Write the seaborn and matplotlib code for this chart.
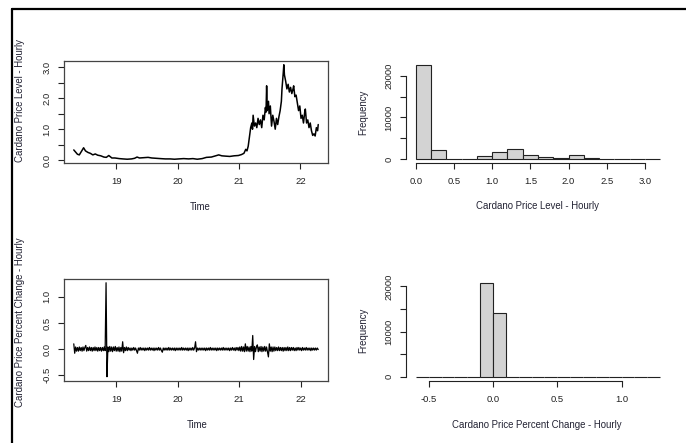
import numpy as np
import matplotlib
matplotlib.use("Agg")
import matplotlib.pyplot as plt
from matplotlib.lines import Line2D
import seaborn as sns

# Hourly Cardano price level (years as 18..22)
price_time = [18.31, 18.34, 18.37, 18.40, 18.44, 18.47, 18.50, 18.54, 18.58, 18.62,
              18.66, 18.70, 18.75, 18.80, 18.84, 18.88, 18.93, 18.98, 19.05, 19.11,
              19.18, 19.25, 19.30, 19.34, 19.38, 19.45, 19.52, 19.58, 19.65, 19.72,
              19.80, 19.88, 19.95, 20.02, 20.10, 20.18, 20.25, 20.32, 20.40, 20.47,
              20.55, 20.62, 20.67, 20.72, 20.78, 20.85, 20.92, 20.99, 21.04, 21.08,
              21.11, 21.13, 21.15, 21.17, 21.19, 21.21, 21.22, 21.23, 21.25, 21.27,
              21.29, 21.31, 21.33, 21.35, 21.37, 21.39, 21.41, 21.43, 21.44, 21.45,
              21.46, 21.48, 21.49, 21.51, 21.53, 21.55, 21.57, 21.59, 21.61, 21.63,
              21.65, 21.67, 21.69, 21.70, 21.72, 21.73, 21.74, 21.76, 21.78, 21.80,
              21.82, 21.84, 21.86, 21.88, 21.89, 21.91, 21.93, 21.95, 21.97, 21.99,
              22.01, 22.03, 22.05, 22.07, 22.08, 22.10, 22.12, 22.14, 22.16, 22.18,
              22.20, 22.22, 22.24, 22.26, 22.28, 22.29]
price_level = [0.33, 0.26, 0.19, 0.17, 0.30, 0.40, 0.30, 0.25, 0.22, 0.17,
               0.20, 0.16, 0.14, 0.10, 0.09, 0.15, 0.07, 0.07, 0.05, 0.04,
               0.03, 0.04, 0.06, 0.10, 0.07, 0.08, 0.09, 0.07, 0.06, 0.05,
               0.04, 0.04, 0.03, 0.04, 0.05, 0.04, 0.05, 0.03, 0.05, 0.09,
               0.10, 0.14, 0.17, 0.14, 0.13, 0.12, 0.14, 0.15, 0.18, 0.22,
               0.35, 0.30, 0.45, 0.75, 1.05, 1.20, 1.00, 1.45, 1.10, 1.20,
               1.05, 1.35, 1.15, 1.30, 1.05, 1.45, 1.30, 1.70, 1.55, 2.40,
               1.60, 1.90, 1.50, 1.75, 1.10, 1.45, 1.25, 1.00, 1.35, 1.15,
               1.40, 1.60, 1.90, 2.30, 2.80, 3.08, 2.75, 2.55, 2.30, 2.45,
               2.20, 2.35, 2.15, 2.30, 2.40, 2.05, 2.10, 1.85, 1.60, 1.75,
               1.35, 1.45, 1.20, 1.55, 1.65, 1.20, 1.30, 1.05, 1.20, 0.95,
               0.80, 0.85, 0.78, 1.05, 0.95, 1.15]

# Percent change series, sampled at regular steps from the start of the series
change_start = 18.31
change_step = 0.015
pct_change = [
    0.10, -0.08, 0.04, -0.04, 0.03, -0.04, 0.04, -0.03, 0.03, -0.04, 0.04, -0.03, 0.03, 0.07, -0.04, 0.03, -0.03, 0.04, -0.03, 0.03,
    -0.04, 0.03, -0.03, 0.04, -0.03, 0.03, -0.04, 0.03, -0.03, 0.03, -0.04, 0.03, -0.03, 0.04, -0.03, 1.27, -0.53, 0.04, -0.05, 0.05,
    -0.04, 0.04, -0.05, 0.04, -0.03, 0.05, -0.04, 0.03, -0.04, 0.04, -0.05, 0.03, -0.04, 0.14, -0.07, 0.03, -0.03, 0.04, -0.03, 0.03,
    -0.02, 0.02, -0.03, 0.02, -0.02, 0.03, -0.02, 0.02, -0.03, -0.08, 0.02, -0.02, 0.03, -0.02, 0.02, -0.02, 0.02, -0.03, 0.02, -0.02,
    0.02, -0.02, 0.03, -0.02, 0.02, -0.02, 0.02, -0.03, 0.02, -0.02, 0.02, -0.02, 0.03, -0.02, 0.02, -0.03, -0.06, 0.02, -0.02, 0.02,
    -0.02, 0.02, -0.02, 0.03, -0.02, 0.02, -0.02, 0.02, -0.02, 0.02, -0.03, 0.02, -0.02, 0.02, -0.02, 0.02, -0.02, 0.03, -0.02, 0.02,
    -0.02, 0.02, -0.02, 0.02, -0.03, 0.02, -0.02, 0.02, -0.02, 0.03, -0.02, 0.02, 0.14, -0.05, 0.02, -0.02, 0.02, -0.02, 0.02, -0.02,
    0.02, -0.02, 0.02, -0.03, 0.02, -0.02, 0.02, -0.02, 0.03, -0.02, 0.02, -0.02, 0.02, -0.02, 0.02, -0.03, 0.02, -0.02, 0.02, -0.02,
    0.02, -0.02, 0.03, -0.02, 0.02, -0.02, 0.02, -0.02, 0.02, -0.03, 0.02, -0.02, 0.03, -0.02, 0.02, -0.03, 0.03, -0.02, 0.03, -0.03,
    0.04, -0.04, 0.05, -0.04, 0.04, -0.05, 0.10, -0.04, 0.05, -0.04, 0.04, -0.05, 0.05, -0.04, 0.26, -0.20, 0.05, -0.05, 0.04, 0.08,
    -0.05, 0.04, -0.04, 0.05, -0.05, 0.04, -0.04, 0.05, -0.04, 0.04, -0.05, -0.15, 0.10, -0.04, 0.04, -0.05, 0.04, -0.04, 0.04, -0.03,
    0.03, -0.03, 0.04, -0.03, 0.03, -0.03, 0.03, -0.04, 0.03, -0.03, 0.03, -0.03, 0.04, -0.03, 0.03, -0.03, 0.03, -0.02, 0.03, -0.03,
    0.02, -0.03, 0.03, -0.02, 0.03, -0.02, 0.02, -0.03, 0.03, -0.02, 0.02, -0.02, 0.03, -0.02, 0.02, -0.02, 0.02, -0.03, 0.02, -0.02,
    0.02, -0.02, 0.02, -0.02, 0.02, -0.01]

# Histogram counts
level_edges = [0.0, 0.2, 0.4, 0.6, 0.8, 1.0, 1.2, 1.4, 1.6, 1.8, 2.0, 2.2, 2.4, 2.6, 2.8, 3.0, 3.2]
level_counts = [22600, 2280, 0, 170, 830, 1800, 2530, 1070, 490, 250, 970, 330, 100, 20, 100, 5]
change_edges = [-0.6, -0.5, -0.4, -0.3, -0.2, -0.1, 0.0, 0.1, 0.2, 0.3, 0.4, 0.5,
                0.6, 0.7, 0.8, 0.9, 1.0, 1.1, 1.2, 1.3]
change_counts = [1, 0, 0, 0, 2, 20800, 14000, 3, 0, 0, 0, 0, 0, 0, 0, 0, 0, 0, 1]

# Ticks
ts_xticks = [19, 20, 21, 22]
level_yticks = [0.0, 0.5, 1.0, 1.5, 2.0, 2.5, 3.0]
level_ylabels = ["0.0", "", "1.0", "", "2.0", "", "3.0"]
change_yticks = [-0.5, 0.0, 0.5, 1.0]
change_ylabels = ["-0.5", "0.0", "0.5", "1.0"]
freq_ticks = [0, 5000, 10000, 15000, 20000]
freq_labels = ["0", "", "10000", "", "20000"]
level_xticks = [0.0, 0.5, 1.0, 1.5, 2.0, 2.5, 3.0]
change_xticks = [-0.5, 0.0, 0.5, 1.0]

sns.set_style("ticks")
plt.rcParams['font.family'] = ['Liberation Sans', 'DejaVu Sans']

W, H = 686, 443
fig = plt.figure(figsize=(W / 100, H / 100), dpi=100)


def px_axes(x0, y0, x1, y1):
    return fig.add_axes([x0 / W, 1 - y1 / H, (x1 - x0) / W, (y1 - y0) / H])


def r_range(lo, hi):
    ext = (hi - lo) * 0.04
    return lo - ext, hi + ext


def style_ticks(ax):
    ax.tick_params(axis='both', length=4.3, width=0.8, color='#222222',
                   labelsize=6.8, labelcolor='#222222')
    ax.tick_params(axis='x', pad=6.0)
    ax.tick_params(axis='y', pad=4.5, labelrotation=90)
    for lab in ax.get_yticklabels():
        lab.set_va('center')


def ts_panel(ax, x, y, yticks, ylabels, lw):
    sns.lineplot(x=x, y=y, ax=ax, color='black', linewidth=lw, estimator=None, sort=False)
    ax.set_xlim(*r_range(min(x), max(x)))
    ax.set_ylim(*r_range(min(y), max(y)))
    ax.set_xticks(ts_xticks)
    ax.set_xticklabels([str(t) for t in ts_xticks])
    ax.set_yticks(yticks)
    ax.set_yticklabels(ylabels)
    ax.set_xlabel("")
    ax.set_ylabel("")
    for sp in ax.spines.values():
        sp.set_visible(True)
        sp.set_color('#444444')
        sp.set_linewidth(0.9)
    style_ticks(ax)


def hist_panel(ax, edges, counts, xticks):
    centers = [(a + b) / 2 for a, b in zip(edges[:-1], edges[1:])]
    sns.histplot(x=centers, weights=counts, bins=edges, ax=ax, color='#D3D3D3',
                 edgecolor='#222222', linewidth=0.8, alpha=1)
    ax.set_xlim(*r_range(edges[0], edges[-1]))
    ax.set_ylim(*r_range(0, max(counts)))
    ax.set_xticks(xticks)
    ax.set_xticklabels([f"{t:.1f}" for t in xticks])
    ax.set_yticks(freq_ticks)
    ax.set_yticklabels(freq_labels)
    ax.set_xlabel("")
    ax.set_ylabel("")
    ax.spines['top'].set_visible(False)
    ax.spines['right'].set_visible(False)
    ax.spines['left'].set_bounds(freq_ticks[0], freq_ticks[-1])
    ax.spines['bottom'].set_bounds(xticks[0], xticks[-1])
    for side in ['left', 'bottom']:
        ax.spines[side].set_color('#222222')
        ax.spines[side].set_linewidth(0.8)
    style_ticks(ax)


ax1 = px_axes(64, 61, 328, 163)
ts_panel(ax1, price_time, price_level, level_yticks, level_ylabels, 1.1)

ax2 = px_axes(406, 61, 670, 163)
hist_panel(ax2, level_edges, level_counts, level_xticks)

change_time = [change_start + change_step * i for i in range(len(pct_change))]
ax3 = px_axes(64, 279, 328, 380.5)
ts_panel(ax3, change_time, pct_change, change_yticks, change_ylabels, 0.9)

ax4 = px_axes(406, 279, 670, 380.5)
hist_panel(ax4, change_edges, change_counts, change_xticks)

# axis titles placed like R's base graphics
txt = dict(fontsize=6.9, color='#222233', ha='center', va='center')
fig.text(200 / W, 1 - 207 / H, "Time", **txt)
fig.text(537 / W, 1 - 206 / H, "Cardano Price Level - Hourly", **txt)
fig.text(197 / W, 1 - 425 / H, "Time", **txt)
fig.text(537 / W, 1 - 425 / H, "Cardano Price Percent Change - Hourly", **txt)
fig.text(20 / W, 1 - 101 / H, "Cardano Price Level - Hourly", rotation=90, **txt)
fig.text(20 / W, 1 - 322 / H, "Cardano Price Percent Change - Hourly", rotation=90, **txt)
fig.text(363 / W, 1 - 112 / H, "Frequency", rotation=90, **txt)
fig.text(363 / W, 1 - 330 / H, "Frequency", rotation=90, **txt)

# frame line from the screenshot (top and left edges)
fig.add_artist(Line2D([12 / W, 1], [1 - 9 / H, 1 - 9 / H], color='black', linewidth=1.6,
                      transform=fig.transFigure))
fig.add_artist(Line2D([12 / W, 12 / W], [1 - 9 / H, 0], color='black', linewidth=1.6,
                      transform=fig.transFigure))

fig.savefig("out.png", dpi=100)
